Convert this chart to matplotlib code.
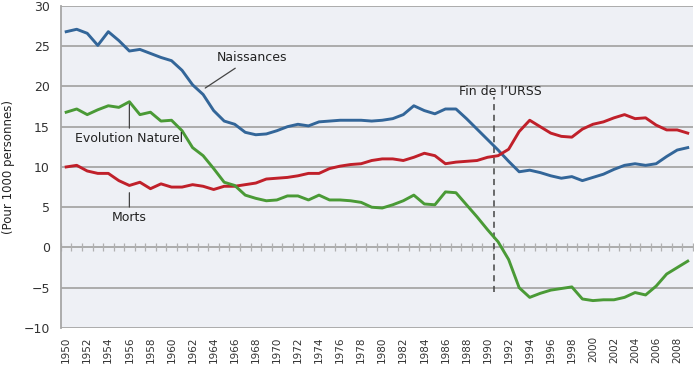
import numpy as np
import matplotlib.pyplot as plt

years = list(range(1950, 2010))

naissances = [26.8, 27.1, 26.6, 25.1, 26.8, 25.7, 24.4, 24.6, 24.1, 23.6,
              23.2, 22.0, 20.2, 19.0, 17.0, 15.7, 15.3, 14.3, 14.0, 14.1,
              14.5, 15.0, 15.3, 15.1, 15.6, 15.7, 15.8, 15.8, 15.8, 15.7,
              15.8, 16.0, 16.5, 17.6, 17.0, 16.6, 17.2, 17.2, 16.0, 14.7,
              13.4, 12.1, 10.7, 9.4, 9.6, 9.3, 8.9, 8.6, 8.8, 8.3,
              8.7, 9.1, 9.7, 10.2, 10.4, 10.2, 10.4, 11.3, 12.1, 12.4]

morts = [10.0, 10.2, 9.5, 9.2, 9.2, 8.3, 7.7, 8.1, 7.3, 7.9,
         7.5, 7.5, 7.8, 7.6, 7.2, 7.6, 7.6, 7.8, 8.0, 8.5,
         8.6, 8.7, 8.9, 9.2, 9.2, 9.8, 10.1, 10.3, 10.4, 10.8,
         11.0, 11.0, 10.8, 11.2, 11.7, 11.4, 10.4, 10.6, 10.7, 10.8,
         11.2, 11.4, 12.2, 14.4, 15.8, 15.0, 14.2, 13.8, 13.7, 14.7,
         15.3, 15.6, 16.1, 16.5, 16.0, 16.1, 15.2, 14.6, 14.6, 14.2]

evolution = [16.8, 17.2, 16.5, 17.1, 17.6, 17.4, 18.1, 16.5, 16.8, 15.7,
             15.8, 14.5, 12.4, 11.4, 9.8, 8.1, 7.7, 6.5, 6.1, 5.8,
             5.9, 6.4, 6.4, 5.9, 6.5, 5.9, 5.9, 5.8, 5.6, 5.0,
             4.9, 5.3, 5.8, 6.5, 5.4, 5.3, 6.9, 6.8, 5.3, 3.8,
             2.2, 0.7, -1.5, -5.0, -6.2, -5.7, -5.3, -5.1, -4.9, -6.4,
             -6.6, -6.5, -6.5, -6.2, -5.6, -5.9, -4.8, -3.3, -2.5, -1.7]

fin_urss = 1990.6

fig = plt.figure(figsize=(7, 3.71), dpi=100)
ax = fig.add_axes([0.087, 0.116, 0.903, 0.868])
ax.set_facecolor('#eef0f5')

grid_col = '#a6a6a6'
for v in [-10, -5, 5, 10, 15, 20, 25, 30]:
    ax.axhline(v, color=grid_col, lw=1.3, zorder=1)

# axe des categories a zero, avec graduations croisees
edges = np.arange(years[0] - 0.5, years[-1] + 1.0, 1.0)
ax.axhline(0, color=grid_col, lw=1.3, zorder=1)
ax.plot(edges, np.zeros(len(edges)), linestyle='none', marker='|',
        markersize=6, color='#b0b0b0', mew=0.9, zorder=1)

ax.plot(years, naissances, color='#336699', lw=2.1, zorder=3)
ax.plot(years, morts, color='#c0202a', lw=2.1, zorder=3)
ax.plot(years, evolution, color='#4a9a36', lw=2.1, zorder=3)

ax.plot([fin_urss, fin_urss], [-5.5, 18.7], color='#444444', lw=1.1,
        linestyle=(0, (4, 3)), zorder=2)
ax.text(fin_urss + 0.6, 19.4, "Fin de l\u2019URSS", fontsize=9, ha='center',
        va='center', color='#222222')

ax.annotate('Naissances', xy=(1963.2, 19.8), xytext=(1967.6, 22.8),
            fontsize=9, ha='center', va='bottom', color='#222222',
            arrowprops=dict(arrowstyle='-', color='#444444', lw=0.9,
                            shrinkA=2, shrinkB=0))
ax.annotate('Evolution Naturel', xy=(1956, 17.8), xytext=(1956, 14.3),
            fontsize=9, ha='center', va='top', color='#222222',
            arrowprops=dict(arrowstyle='-', color='#444444', lw=0.9,
                            shrinkA=1, shrinkB=0))
ax.annotate('Morts', xy=(1956, 6.8), xytext=(1956, 4.5),
            fontsize=9, ha='center', va='top', color='#222222',
            arrowprops=dict(arrowstyle='-', color='#444444', lw=0.9,
                            shrinkA=1, shrinkB=0))

ax.set_xlim(1949.5, 2009.5)
ax.set_ylim(-10, 30)
ax.set_yticks(range(-10, 31, 5))
ax.set_xticks(years[::2])
ax.set_xticklabels([str(y) for y in years[::2]], rotation=90, fontsize=7.5,
                   color='#333333')
ax.tick_params(axis='x', length=0, pad=6)
ax.tick_params(axis='y', length=0, labelsize=9, labelcolor='#333333', pad=8)

for s in ['top', 'right', 'bottom']:
    ax.spines[s].set_visible(False)
ax.spines['left'].set_color(grid_col)
ax.spines['left'].set_linewidth(1.3)

ax.set_ylabel('(Pour 1000 personnes)', fontsize=8.5, color='#222222', labelpad=6)

fig.savefig('out.png', dpi=100)
